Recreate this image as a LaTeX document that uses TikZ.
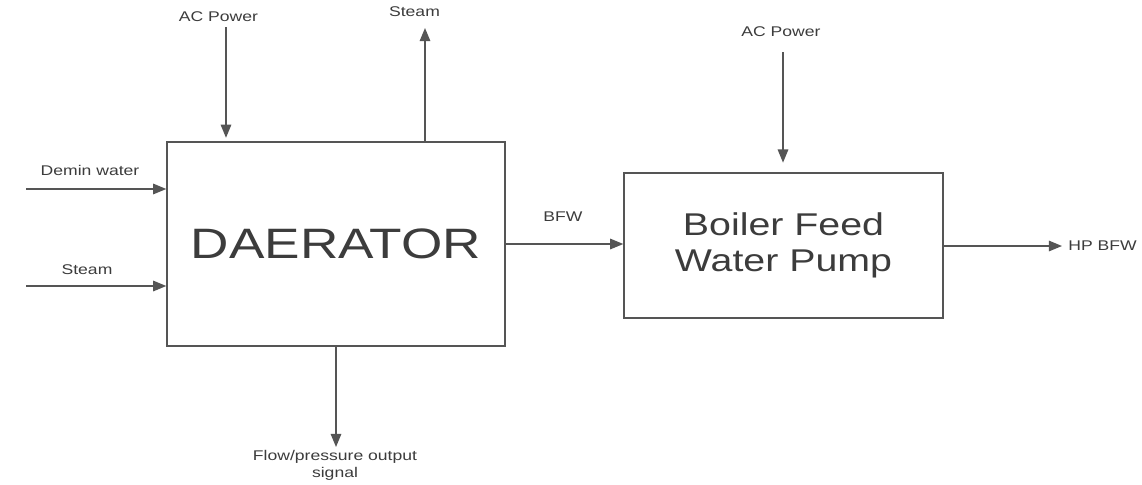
\documentclass[tikz,border=0pt]{standalone}
\usepackage{fontspec}
\newfontfamily\flowfont[FakeStretch=1.25]{Liberation Sans}
\usetikzlibrary{arrows.meta, calc}
\definecolor{lineC}{RGB}{85,85,85}
\definecolor{textC}{RGB}{60,60,60}

\begin{document}
\begin{tikzpicture}[
  x=0.2mm, y=-0.2mm,
  every node/.style={font=\flowfont\fontsize{8}{9.7}\selectfont, text=textC},
  unit/.style={draw=lineC, line width=0.8pt, fill=white, inner sep=0pt},
  flow/.style={-{Triangle[length=7.5pt, width=6pt]}, line width=0.8pt, draw=lineC}
]
  \useasboundingbox[fill=white] (0,0) rectangle (1142,484);

  % --- Units ---
  \node[unit, minimum width=67.6mm, minimum height=40.8mm,
        font=\flowfont\fontsize{24.2}{28}\selectfont] (dae) at (336,244) {DAERATOR};
  \node[unit, minimum width=63.8mm, minimum height=29mm, align=center,
        font=\flowfont\fontsize{17.9}{20.5}\selectfont] (bfwp) at (783.5,245.5) {Boiler Feed\\Water Pump};

  % --- Stream ends ---
  \coordinate (acdae)    at (226,27);
  \coordinate (steamout) at (425,28);
  \coordinate (demin)    at (26,189);
  \coordinate (steamin)  at (26,286);
  \coordinate (signal)   at (336,447);
  \coordinate (acpump)   at (783,52);
  \coordinate (hpout)    at (1062,246);

  % --- Streams ---
  \draw[flow, shorten >=2pt] (acdae) -- (acdae |- dae.north);
  \draw[flow] (steamout |- dae.north) -- (steamout);
  \draw[flow] (demin) -- (demin -| dae.west);
  \draw[flow] (steamin) -- (steamin -| dae.west);
  \draw[flow] (dae.south) -- (signal);
  \draw[flow] (dae.east) -- (dae.east -| bfwp.west);
  \draw[flow, shorten >=5.5pt] (acpump) -- (acpump |- bfwp.north);
  \draw[flow] (bfwp.east |- hpout) -- (hpout);

  % --- Labels ---
  \node (lacdae)    at (218.5,16.5) {AC Power};
  \node (lsteamout) at (414.5,12)   {Steam};
  \node (ldemin)    at (90,170)     {Demin water};
  \node (lsteamin)  at (87,270)     {Steam};
  \node (lbfw)      at (563,217)    {BFW};
  \node (lacpump)   at (781,32)     {AC Power};
  \node[anchor=west, inner sep=0pt] (lhp) at (1068,246) {HP BFW};
  \node[anchor=north, inner sep=0pt, align=center] (lsignal) at (335,450)
    {Flow/pressure output\\signal};
\end{tikzpicture}
\end{document}
